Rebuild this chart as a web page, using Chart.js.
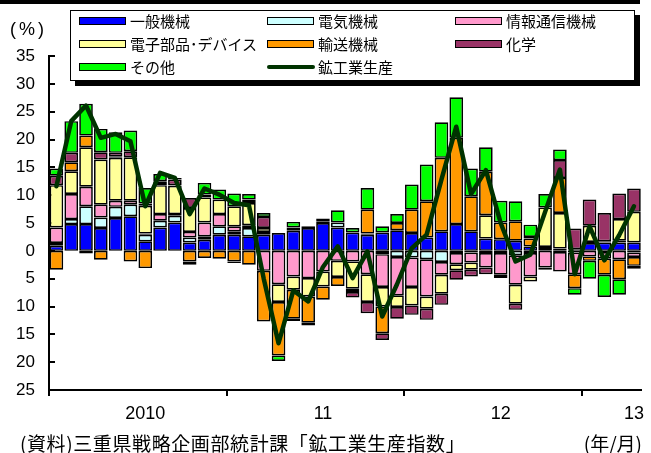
<!DOCTYPE html>
<html>
<head>
<meta charset="utf-8">
<script src="https://cdn.jsdelivr.net/npm/chart.js@4.4.1/dist/chart.umd.min.js"></script>
<style>
  body { margin: 0; background: #fff; }
  #wrap { position: relative; width: 651px; height: 453px; overflow: hidden; font-family: "Noto Sans CJK JP", sans-serif; }
  #chart { position: absolute; left: 0; top: 0; }
  #topbar { position: absolute; left: 0; top: 0; width: 640px; height: 4px; background: #000; }
  #legend { position: absolute; left: 70px; top: 10px; width: 563px; height: 69px; border: 1px solid #000; box-shadow: 5px 5px 0 #000; background: #fff; }
  .item { position: absolute; height: 20px; line-height: 20px; font-size: 15px; white-space: nowrap; color: #000; }
  .sw { position: absolute; left: 0; top: 6px; width: 45px; height: 6px; border: 1.5px solid #000; }
  .ln { position: absolute; left: 0; top: 8px; width: 48px; height: 4px; border-radius: 2px; }
  .item span { position: absolute; left: 51px; top: 0; }
  #unit { position: absolute; left: 10px; top: 19px; font: 18px "Liberation Sans", Arial, sans-serif; letter-spacing: 3px; }
  #source { position: absolute; left: 20px; top: 429px; font-size: 19px; letter-spacing: 0.6px; }
  #ym { position: absolute; right: 9px; top: 429px; font-size: 19px; }
</style>
</head>
<body>
<div id="wrap">
  <canvas id="chart" width="651" height="453"></canvas>
  <div id="topbar"></div>
  <div id="unit">(%)</div>
  <div id="legend"></div>
  <div id="source">(資料)三重県戦略企画部統計課「鉱工業生産指数」</div>
  <div id="ym">(年/月)</div>
</div>
<script>
// 2010年1月〜2013年4月（月次、前年同月比寄与度）
const tickLabels = ['', '', '', '', '', '', '2010', '', '', '', '', '',
                    '', '', '', '', '', '', '11', '', '', '', '', '',
                    '', '', '', '', '', '', '12', '', '', '', '', '',
                    '', '', '', '13'];

const seriesNames = ['一般機械', '電気機械', '情報通信機械', '電子部品･デバイス', '輸送機械', '化学', 'その他'];
const lineName = '鉱工業生産';

const machinery = [0.9, 4.8, 4.8, 4.1, 5.9, 6.2, 1.7, 4.2, 5.1, 1.5,
                   2.0, 2.9, 2.9, 2.6, 2.9, 3.2, 3.6, 4.1, 5.0, 4.2,
                   3.3, 2.9, 3.3, 3.7, 3.2, 2.4, 3.5, 4.8, 3.5, 2.2,
                   2.1, 1.8, 0.8, 0.5, 0.4, 0.3, 1.4, 1.5, 1.5, 1.5];
const electrical = [0.5, 0.9, 3.2, 1.9, 2.0, 2.1, 1.2, 1.2, 1.2, 0.9,
                    0.6, 1.5, 0.6, 1.5, 0.5, 0, 0.6, 0.3, 0.3, 0.9,
                    0, 0.2, -0.6, -1.1, -1.2, -1.5, -2.0, -0.4, -0.3, -0.4,
                    -0.4, -0.8, -0.4, 0.2, -0.2, -0.3, 0.2, -0.2, 0.3, -0.3];
const infoComm = [2.8, 4.5, 3.5, 2.3, 1.1, 0.7, 0.2, 1.2, 0.3, 1.0,
                  2.5, 2.2, 0.9, 0.5, -3.6, -6.0, -4.6, -4.9, -3.7, -1.8,
                  -1.9, -4.2, -5.9, -6.9, -5.3, -6.7, -2.3, -2.0, -1.8, -2.6,
                  -3.9, -5.3, -4.2, -3.0, -3.5, -3.9, -1.0, -1.2, -1.5, -0.8];
const devices = [7.6, 4.1, 7.1, 8.1, 7.7, 7.8, 5.0, 5.2, 5.1, 4.3,
                 4.5, 2.6, 3.6, 4.0, 0.7, -3.2, -2.4, -3.3, -2.7, -2.9,
                 -4.9, -5.0, -3.5, -2.1, -3.3, -2.2, -3.4, -1.1, -1.3, 4.2,
                 0, -3.4, -0.9, 7.1, 6.4, 0, 2.9, 0.2, 3.9, 5.5];
const transport = [-3.4, 1.6, 2.1, -1.6, 0.2, -1.9, -3.1, 0.2, 0.1, -1.9,
                   -1.3, -1.4, -1.9, -2.5, -9.1, -9.6, -5.2, -4.7, -2.4, -1.6,
                   -0.6, 4.3, -4.8, 1.3, 4.2, 6.5, 13.2, 15.5, 6.3, 7.8,
                   3.0, 3.5, 1.4, 0, 6.3, -2.5, -0.8, -2.9, -3.6, -1.6];
const chemical = [1.7, 1.7, -0.5, 1.3, 0.7, 1.1, 0.4, 0.5, 1.0, 1.8,
                  0.5, 0, -0.3, 0.6, 2.0, 0, -0.4, -0.5, 0, 0,
                  -1.0, -2.0, -1.2, -2.1, -1.7, -2.0, -2.0, -1.7, -1.2, -1.2,
                  -0.6, -1.1, 0.3, -0.4, 3.2, 3.7, 4.7, 5.1, 4.6, 4.2];
const others = [1.3, 5.7, 5.7, 4.2, 3.7, 3.7, 2.8, 1.3, 0.3, -0.6,
                2.1, 1.8, 2.3, 1.0, 0.7, -1.0, 1.0, 0, 0.5, 2.2,
                0.8, 3.9, 1.1, 1.6, 4.5, 6.6, 6.4, 7.3, 5.0, 4.4,
                3.9, 3.6, 2.2, 2.4, 1.9, -1.2, -3.2, -4.0, -2.8, -0.5];
const production = [11.6, 23.3, 26.1, 20.3, 21.0, 19.7, 8.0, 14.0, 13.1, 6.6,
                    11.2, 10.1, 8.6, 8.2, -5.0, -16.6, -7.1, -9.1, -2.9, 0.8,
                    -4.9, -0.1, -11.8, -6.0, 0.5, 2.9, 12.8, 22.3, 10.2, 14.5,
                    5.0, -1.9, -0.7, 7.0, 14.6, -4.2, 4.4, -1.7, 2.8, 8.0];

const seriesData = [machinery, electrical, infoComm, devices, transport, chemical, others];
const seriesColors = ['#0000FF', '#CCFFFF', '#FF99CC', '#FFFF99', '#FF9900', '#993366', '#00FF00'];
const lineColor = '#003300';

// legend (3 columns)
const legend = document.getElementById('legend');
const legendItems = seriesNames.map((n, i) => ({ name: n, color: seriesColors[i], line: false }));
legendItems.push({ name: lineName, color: lineColor, line: true });
const colX = [8, 196, 384];
const rowY = [0, 23, 46];
legendItems.forEach((it, i) => {
    const el = document.createElement('div');
    el.className = 'item';
    el.style.left = colX[i % 3] + 'px';
    el.style.top = rowY[Math.floor(i / 3)] + 'px';
    const mark = document.createElement('div');
    mark.className = it.line ? 'ln' : 'sw';
    mark.style.background = it.color;
    const txt = document.createElement('span');
    txt.textContent = it.name;
    el.appendChild(mark);
    el.appendChild(txt);
    legend.appendChild(el);
});

const axisFont = { family: '"Liberation Sans", Arial, sans-serif', size: 17 };

const innerTicks = {
    id: 'innerTicks',
    beforeDatasetsDraw(chart) {
        const { ctx, chartArea, scales: { y } } = chart;
        ctx.save();
        ctx.strokeStyle = '#000';
        ctx.lineWidth = 2;
        y.ticks.forEach(t => {
            const py = Math.round(y.getPixelForValue(t.value));
            ctx.beginPath();
            ctx.moveTo(chartArea.left, py);
            ctx.lineTo(chartArea.left + 6, py);
            ctx.stroke();
        });
        ctx.restore();
    }
};

const datasets = seriesNames.map((name, i) => ({
    label: name,
    data: seriesData[i],
    backgroundColor: seriesColors[i],
    borderColor: '#000',
    borderWidth: 1.7,
    borderSkipped: false,
    barPercentage: 0.92,
    categoryPercentage: 1.0,
    order: 1
}));
datasets.push({
    type: 'line',
    label: lineName,
    data: production,
    borderColor: lineColor,
    borderWidth: 4.5,
    borderJoinStyle: 'round',
    borderCapStyle: 'round',
    pointRadius: 0,
    tension: 0,
    fill: false,
    stack: 'line',
    order: 0
});

new Chart(document.getElementById('chart'), {
    type: 'bar',
    data: { labels: tickLabels.map((l, i) => i), datasets },
    options: {
        responsive: false,
        animation: false,
        devicePixelRatio: 1,
        layout: { padding: { top: 56, right: 2, left: 0, bottom: 0 } },
        plugins: { legend: { display: false }, tooltip: { enabled: false } },
        scales: {
            x: {
                stacked: true,
                offset: true,
                grid: {
                    offset: true,
                    drawOnChartArea: false,
                    drawTicks: true,
                    tickLength: 6,
                    lineWidth: 2,
                    color: c => [0, 12, 24, 36].includes(c.index) ? '#000' : 'rgba(0,0,0,0)'
                },
                border: { color: '#000', width: 2 },
                ticks: {
                    autoSkip: false,
                    maxRotation: 0,
                    minRotation: 0,
                    padding: 7,
                    color: '#000',
                    font: { ...axisFont, size: 18 },
                    callback: (v, i) => tickLabels[i]
                },
                afterFit: s => { s.height = 63; }
            },
            y: {
                stacked: true,
                min: -25,
                max: 35,
                grid: { display: false, drawTicks: false },
                border: { color: '#000', width: 2 },
                ticks: {
                    stepSize: 5,
                    padding: 14,
                    color: '#000',
                    font: axisFont,
                    callback: v => Math.abs(v)
                },
                afterFit: s => { s.width = 49; }
            }
        }
    },
    plugins: [innerTicks]
});
</script>
</body>
</html>
